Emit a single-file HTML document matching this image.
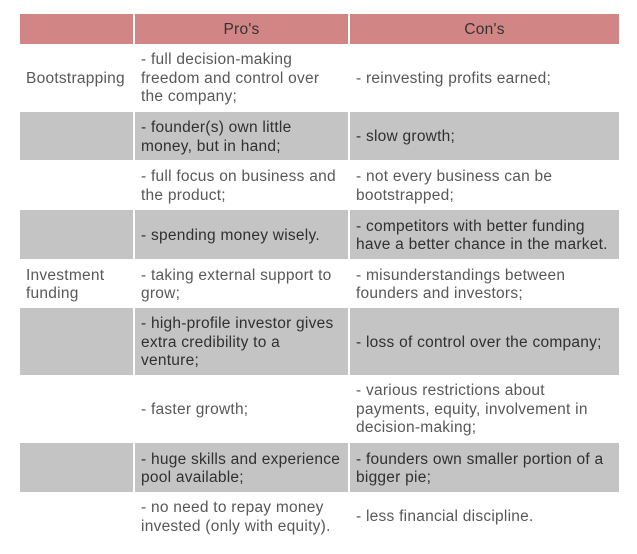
<!DOCTYPE html>
<html><head><style>
body{margin:0;width:637px;height:554px;background:#fff;position:relative;font-family:"Liberation Sans",sans-serif;font-size:15.5px;line-height:18.5px;letter-spacing:0.25px;}
.c{position:absolute;display:flex;align-items:center;box-sizing:border-box;padding:3px 6px 0;color:#585858;white-space:nowrap;}
.g{background:#c4c4c4;color:#303030;}
.h{background:#d28585;color:#333;justify-content:center;}
</style></head><body>
<div class="c h" style="left:20px;top:14px;width:113px;height:30px"></div>
<div class="c h" style="left:135px;top:14px;width:213px;height:30px">Pro's</div>
<div class="c h" style="left:350px;top:14px;width:269px;height:30px">Con's</div>

<div class="c" style="left:20px;top:44px;width:113px;height:67px">Bootstrapping</div>
<div class="c" style="left:135px;top:44px;width:213px;height:67px"><div>- full decision-making<br>freedom and control over<br>the company;</div></div>
<div class="c" style="left:350px;top:44px;width:269px;height:67px">- reinvesting profits earned;</div>

<div class="c g" style="left:20px;top:112px;width:113px;height:48px"></div>
<div class="c g" style="left:135px;top:112px;width:213px;height:48px"><div>- founder(s) own little<br>money, but in hand;</div></div>
<div class="c g" style="left:350px;top:112px;width:269px;height:48px">- slow growth;</div>

<div class="c" style="left:20px;top:160px;width:113px;height:50px"></div>
<div class="c" style="left:135px;top:160px;width:213px;height:50px"><div>- full focus on business and<br>the product;</div></div>
<div class="c" style="left:350px;top:160px;width:269px;height:50px"><div>- not every business can be<br>bootstrapped;</div></div>

<div class="c g" style="left:20px;top:210px;width:113px;height:49px"></div>
<div class="c g" style="left:135px;top:210px;width:213px;height:49px">- spending money wisely.</div>
<div class="c g" style="left:350px;top:210px;width:269px;height:49px"><div>- competitors with better funding<br>have a better chance in the market.</div></div>

<div class="c" style="left:20px;top:259px;width:113px;height:49px"><div>Investment<br>funding</div></div>
<div class="c" style="left:135px;top:259px;width:213px;height:49px"><div>- taking external support to<br>grow;</div></div>
<div class="c" style="left:350px;top:259px;width:269px;height:49px"><div>- misunderstandings between<br>founders and investors;</div></div>

<div class="c g" style="left:20px;top:308px;width:113px;height:67px"></div>
<div class="c g" style="left:135px;top:308px;width:213px;height:67px"><div>- high-profile investor gives<br>extra credibility to a<br>venture;</div></div>
<div class="c g" style="left:350px;top:308px;width:269px;height:67px">- loss of control over the company;</div>

<div class="c" style="left:20px;top:375px;width:113px;height:67px"></div>
<div class="c" style="left:135px;top:375px;width:213px;height:67px">- faster growth;</div>
<div class="c" style="left:350px;top:375px;width:269px;height:67px"><div>- various restrictions about<br>payments, equity, involvement in<br>decision-making;</div></div>

<div class="c g" style="left:20px;top:443px;width:113px;height:49px"></div>
<div class="c g" style="left:135px;top:443px;width:213px;height:49px"><div>- huge skills and experience<br>pool available;</div></div>
<div class="c g" style="left:350px;top:443px;width:269px;height:49px"><div>- founders own smaller portion of a<br>bigger pie;</div></div>

<div class="c" style="left:20px;top:492px;width:113px;height:48px"></div>
<div class="c" style="left:135px;top:492px;width:213px;height:48px"><div>- no need to repay money<br>invested (only with equity).</div></div>
<div class="c" style="left:350px;top:492px;width:269px;height:48px">- less financial discipline.</div>
</body></html>
